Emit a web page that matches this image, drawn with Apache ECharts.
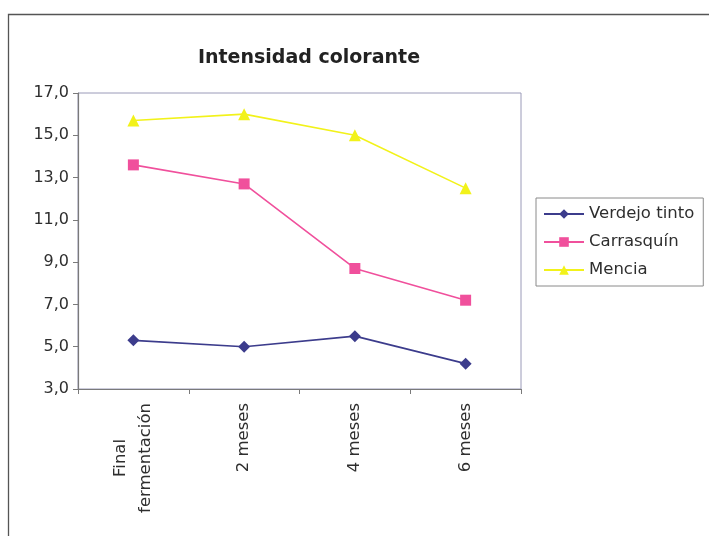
<!DOCTYPE html>
<html>
<head>
<meta charset="utf-8">
<script src="https://cdn.jsdelivr.net/npm/echarts@6/dist/echarts.min.js"></script>
<style>
  html, body { margin: 0; padding: 0; background: #ffffff; }
  #chart { width: 709px; height: 536px; }
</style>
</head>
<body>
<div id="chart"></div>
<script>
// Color intensity over ageing time for three grape varieties
const categories = ['Final\nfermentación', '2 meses', '4 meses', '6 meses'];
const verdejoTinto = [5.3, 5.0, 5.5, 4.2];
const carrasquin = [13.6, 12.7, 8.7, 7.2];
const mencia = [15.7, 16.0, 15.0, 12.5];
const seriesNames = ['Verdejo tinto', 'Carrasquín', 'Mencia'];

const FONT = '"DejaVu Sans", sans-serif';
const TEXT = '#2e2e2e';

const chart = echarts.init(document.getElementById('chart'), null, { renderer: 'canvas' });

function lineSeries(name, data, color, symbol, size) {
  return {
    name: name,
    type: 'line',
    data: data,
    symbol: symbol,
    symbolSize: size,
    showAllSymbol: true,
    lineStyle: { color: color, width: 1.6 },
    itemStyle: { color: color, borderColor: color, borderWidth: 0 },
    emphasis: { disabled: true },
    animation: false
  };
}

chart.setOption({
  backgroundColor: '#ffffff',
  animation: false,
  title: {
    text: 'Intensidad colorante',
    left: 304,
    textAlign: 'center',
    top: 44,
    textStyle: { fontFamily: FONT, fontWeight: 'bold', fontSize: 19, color: '#222222' }
  },
  grid: {
    left: 78, right: 188, top: 93, bottom: 147,
    show: true,
    borderColor: '#9a9ab8',
    borderWidth: 1,
    backgroundColor: 'transparent'
  },
  legend: {
    orient: 'vertical',
    left: 536,
    top: 198,
    padding: [7, 9, 7, 7],
    itemWidth: 40,
    itemHeight: 12,
    itemGap: 10,
    borderColor: '#8a8a8a',
    borderWidth: 1,
    data: seriesNames,
    textStyle: { fontFamily: FONT, fontSize: 16.5, color: TEXT, lineHeight: 18 }
  },
  xAxis: {
    type: 'category',
    data: categories,
    boundaryGap: true,
    axisLine: { show: true, lineStyle: { color: '#7a7a7a', width: 1.2 } },
    axisTick: { show: true, length: 5, inside: false, lineStyle: { color: '#7a7a7a' } },
    splitLine: { show: false },
    axisLabel: {
      rotate: 90,
      margin: 14,
      interval: 0,
      fontFamily: FONT,
      fontSize: 16.5,
      color: TEXT,
      lineHeight: 25,
      formatter: function (v) {
        return v.split('\n').map(function (s) { return '{c|' + s + '}'; }).join('\n');
      },
      rich: {
        c: { align: 'center', fontFamily: FONT, fontSize: 16.5, color: TEXT, lineHeight: 25 }
      }
    }
  },
  yAxis: {
    type: 'value',
    min: 3,
    max: 17,
    interval: 2,
    axisLine: { show: true, lineStyle: { color: '#7a7a7a', width: 1.2 } },
    axisTick: { show: true, length: 5, lineStyle: { color: '#7a7a7a' } },
    splitLine: { show: false },
    axisLabel: {
      margin: 9,
      fontFamily: FONT,
      fontSize: 16,
      color: TEXT,
      formatter: function (v) { return v.toFixed(1).replace('.', ','); }
    }
  },
  graphic: [{
    type: 'rect',
    silent: true,
    z: -1,
    shape: { x: 8.5, y: 14.5, width: 760, height: 560 },
    style: { fill: 'none', stroke: '#555555', lineWidth: 1.3 }
  }],
  series: [
    lineSeries(seriesNames[0], verdejoTinto, '#3c3c8c', 'diamond', 12),
    lineSeries(seriesNames[1], carrasquin, '#f0509c', 'rect', 11),
    lineSeries(seriesNames[2], mencia, '#f2f21a', 'triangle', 12)
  ]
});
</script>
</body>
</html>
